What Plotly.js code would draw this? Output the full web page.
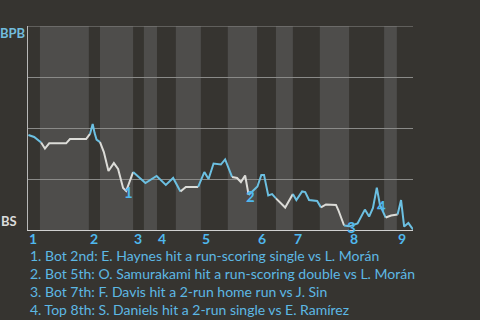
<!DOCTYPE html>
<html>
<head>
<meta charset="utf-8">
<script src="https://cdn.plot.ly/plotly-3.0.1.min.js"></script>
<style>html,body{margin:0;padding:0;background:#363430;}#chart{width:480px;height:320px;}</style>
</head>
<body>
<div id="chart"></div>
<script>
// Game progress (play index, 0-100) and win probability (0 = BS, 1 = BPB)
const plays = [0.1,1.6,3.4,4.4,5.5,9.9,10.9,15.1,16.1,16.8,17.3,17.8,18.7,19.7,20.9,22.3,23.4,24.7,25.5,27.3,
  30.5,33.4,35.8,37.7,39.6,41.0,44.2,45.8,46.9,48.2,50.1,51.2,53.0,54.3,55.3,56.4,57.3,59.6,60.6,61.3,
  62.4,63.4,64.4,66.8,68.8,69.7,71.2,72.0,73.0,75.1,76.1,77.4,80.0,80.6,82.1,83.5,85.6,87.5,88.6,89.6,
  90.6,91.4,92.9,94.3,96.0,96.9,97.7,98.8,100];
const winProb = [0.466,0.456,0.429,0.399,0.425,0.425,0.446,0.446,0.471,0.520,0.475,0.443,0.431,0.382,0.289,0.328,0.299,0.206,0.191,0.284,
  0.230,0.265,0.221,0.255,0.189,0.211,0.211,0.284,0.250,0.326,0.321,0.346,0.260,0.255,0.235,0.267,0.172,0.213,0.270,0.270,
  0.169,0.176,0.155,0.110,0.176,0.147,0.189,0.186,0.147,0.142,0.111,0.125,0.123,0.098,0.022,0.018,0.032,0.100,0.066,0.108,
  0.208,0.124,0.061,0.071,0.076,0.147,0.017,0.034,0.003];
// Batting side for each segment between consecutive plays (A = away/top, H = home/bottom)
const segSide = ['A','A','H','H','H','H','H','H','A','A','A','A','H','H','H','H','H','H','H','A','A','A','A','A',
  'H','H','A','A','A','A','A','A','H','H','H','H','A','A','A','A','A','A','H','H','A','A','A','A','A','A',
  'H','H','H','H','A','A','A','A','A','A','A','A','H','H','A','A','A','A'];
// Half-inning start positions (even = top, odd = bottom), end of range
const halfStarts = [0,3.1,15.8,18.7,27.3,30.1,33.5,38.4,44.9,51.9,59.5,64.4,68.8,75.8,83.4,92.5,95.8];
const gameEnd = 100;
const inningLabels = ['1','2','3','4','5','6','7','8','9'];
// Key events
const eventPlayIdx = [18,36,55,61];
const eventLabels = ['1','2','3','4'];
const eventNotes = [
  '1. Bot 2nd: E. Haynes hit a run-scoring single vs L. Morán',
  '2. Bot 5th: O. Samurakami hit a run-scoring double vs L. Morán',
  '3. Bot 7th: F. Davis hit a 2-run home run vs J. Sin',
  '4. Top 8th: S. Daniels hit a 2-run single vs E. Ramírez'
];
const teamLabels = ['BPB','BS'];
const gridVals = [0, 0.25, 0.5, 0.75, 1];

const BG = '#363430', BAND = '#4e4d4b', BLUE = '#6cc0e2', WHITE = '#dcdcd8', TXT = '#5db8e4';
const FONT = 'Lato, "Open Sans", sans-serif';

// line traces, one per run of equal batting side
const traces = [];
let runStart = 0;
for (let k = 1; k <= segSide.length; k++) {
  if (k === segSide.length || segSide[k] !== segSide[runStart]) {
    traces.push({
      x: plays.slice(runStart, k + 1), y: winProb.slice(runStart, k + 1),
      type: 'scatter', mode: 'lines', hoverinfo: 'skip',
      line: {color: segSide[runStart] === 'A' ? BLUE : WHITE, width: 2}
    });
    runStart = k;
  }
}

// bands for bottom halves
const shapes = [];
for (let i = 1; i < halfStarts.length; i += 2) {
  const x1 = i + 1 < halfStarts.length ? halfStarts[i + 1] : gameEnd;
  shapes.push({type: 'rect', xref: 'x', yref: 'paper', x0: halfStarts[i], x1: x1, y0: 0, y1: 1,
    fillcolor: BAND, line: {width: 0}, layer: 'below'});
}
// top gridline (at range end)
shapes.push({type: 'line', xref: 'paper', yref: 'y', x0: 0, x1: 1, y0: gridVals[gridVals.length - 1], y1: gridVals[gridVals.length - 1],
  line: {color: '#8a8a88', width: 1}, layer: 'below'});
const inningStarts = halfStarts.filter((v, i) => i % 2 === 0);

const annotations = [];
inningStarts.forEach((x, i) => {
  annotations.push({x: x, y: 0, xref: 'x', yref: 'paper', text: inningLabels[i], showarrow: false,
    xanchor: 'left', yanchor: 'middle', xshift: 1, yshift: -8, borderpad: 0, borderwidth: 0,
    font: {family: FONT, size: 14, color: '#4fb8ee', weight: 'bold'}});
});
eventPlayIdx.forEach((pi, i) => {
  annotations.push({x: plays[pi], y: winProb[pi], xref: 'x', yref: 'y', text: eventLabels[i], showarrow: false,
    xanchor: 'center', yanchor: 'middle', xshift: 2, yshift: -1, borderpad: 0, borderwidth: 0,
    font: {family: FONT, size: 15, color: '#4fb8ee', weight: 'bold'}});
});
annotations.push({xref: 'paper', yref: 'paper', x: 0, y: 1, xanchor: 'right', yanchor: 'middle', xshift: -2, yshift: -7,
  text: teamLabels[0], showarrow: false, borderpad: 0, borderwidth: 0,
  font: {family: FONT, size: 13, color: '#72bcdc', weight: 'bold'}});
annotations.push({xref: 'paper', yref: 'paper', x: 0, y: 0, xanchor: 'right', yanchor: 'middle', xshift: -11, yshift: 9,
  text: teamLabels[1], showarrow: false, borderpad: 0, borderwidth: 0,
  font: {family: FONT, size: 13, color: '#dcdcdc', weight: 'bold'}});
eventNotes.forEach((t, i) => {
  annotations.push({xref: 'paper', yref: 'paper', x: 0, y: 0, xanchor: 'left', yanchor: 'middle',
    xshift: 2, yshift: -25 - 18 * i, text: t, showarrow: false, borderpad: 0, borderwidth: 0, align: 'left',
    font: {family: FONT, size: 14, color: TXT}});
});

const layout = {
  width: 480, height: 320,
  paper_bgcolor: BG, plot_bgcolor: BG,
  margin: {l: 28, r: 67, t: 26, b: 90, pad: 0},
  showlegend: false,
  xaxis: {range: [0, gameEnd], showgrid: false, zeroline: false, showline: true, linecolor: '#d0d0d0', linewidth: 1,
    showticklabels: false, ticks: '', fixedrange: true},
  yaxis: {range: [0, 1], tickmode: 'array', tickvals: gridVals, showticklabels: false,
    showgrid: true, gridcolor: '#8a8a88', gridwidth: 1, zeroline: false, showline: true, linecolor: '#b8b8b8', linewidth: 1, fixedrange: true},
  shapes: shapes,
  annotations: annotations
};

Plotly.newPlot('chart', traces, layout, {displayModeBar: false, staticPlot: true});
</script>
</body>
</html>
